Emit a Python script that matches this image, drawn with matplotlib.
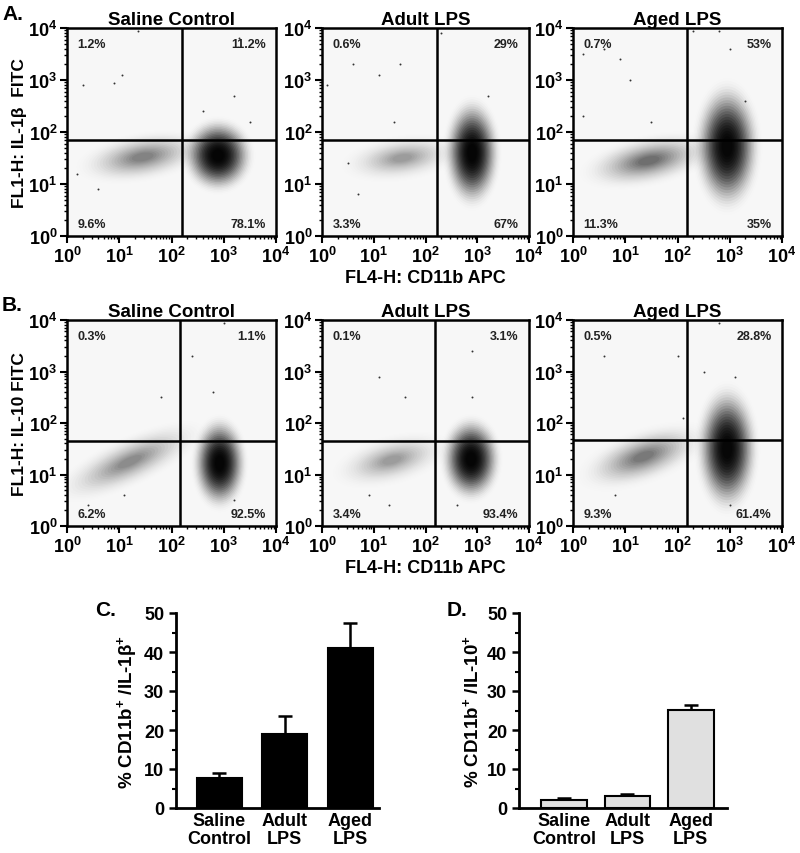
import numpy as np
import matplotlib
matplotlib.use('Agg')
from matplotlib import pyplot as plt
from matplotlib.patches import Ellipse

plt.rcParams['font.family'] = ['Liberation Sans', 'DejaVu Sans']
plt.rcParams['font.weight'] = 'bold'
plt.rcParams['mathtext.fontset'] = 'custom'
plt.rcParams['mathtext.rm'] = 'Liberation Sans:bold'
plt.rcParams['mathtext.bf'] = 'Liberation Sans:bold'
plt.rcParams['mathtext.it'] = 'Liberation Sans:bold'
plt.rcParams['mathtext.default'] = 'bf'

# ---- flow cytometry panels (values in log10 units) ----
groups = ['Saline Control', 'Adult LPS', 'Aged LPS']

# quadrant gates (x, y) per panel
gates_a = [(2.20, 1.85), (2.22, 1.85), (2.18, 1.84)]
gates_b = [(2.16, 1.65), (2.19, 1.65), (2.18, 1.67)]

# quadrant percentages: upper-left, upper-right, lower-left, lower-right
pct_a = [['1.2%', '11.2%', '9.6%', '78.1%'],
         ['0.6%', '29%', '3.3%', '67%'],
         ['0.7%', '53%', '11.3%', '35%']]
pct_b = [['0.3%', '1.1%', '6.2%', '92.5%'],
         ['0.1%', '3.1%', '3.4%', '93.4%'],
         ['0.5%', '28.8%', '9.3%', '61.4%']]

# populations: (center x, center y, radius x, radius y, tilt deg, density)
clusters_a = [
    [(2.89, 1.55, 0.36, 0.38, 0, 1.9), (1.45, 1.52, 0.70, 0.26, 10, 0.35)],
    [(2.90, 1.60, 0.29, 0.56, 0, 1.9), (1.55, 1.50, 0.64, 0.24, 8, 0.25)],
    [(2.95, 1.72, 0.34, 0.66, 0, 1.8), (1.45, 1.45, 0.70, 0.26, 12, 0.45)],
]
clusters_b = [
    [(2.92, 1.22, 0.28, 0.48, 0, 1.9), (1.20, 1.25, 0.85, 0.26, 25, 0.32)],
    [(2.88, 1.30, 0.31, 0.44, 0, 1.9), (1.35, 1.28, 0.64, 0.26, 15, 0.25)],
    [(2.95, 1.50, 0.32, 0.66, 0, 1.8), (1.35, 1.35, 0.70, 0.28, 20, 0.40)],
]

# stray events
strays_a = [
    [(0.3, 2.9), (0.9, 2.95), (1.05, 3.1), (1.35, 3.95), (3.3, 3.8), (3.2, 2.7), (2.6, 2.4), (3.5, 2.2), (0.2, 1.2), (0.6, 0.9)],
    [(0.6, 3.3), (1.1, 3.1), (1.5, 3.3), (0.1, 2.9), (2.3, 3.9), (3.2, 2.7), (1.4, 2.2), (0.5, 1.4), (0.7, 0.8)],
    [(0.2, 3.5), (0.9, 3.4), (1.1, 3.0), (0.6, 3.6), (2.3, 3.95), (2.8, 3.95), (3.0, 3.6), (3.3, 2.6), (1.5, 2.2), (0.2, 2.3)],
]
strays_b = [
    [(3.0, 3.95), (2.4, 3.3), (2.8, 2.6), (1.8, 2.5), (0.4, 0.4), (1.1, 0.6), (3.2, 0.5)],
    [(1.1, 2.9), (1.6, 2.5), (2.9, 3.4), (2.9, 2.5), (0.9, 0.6), (1.3, 0.4), (2.6, 0.4)],
    [(2.8, 3.95), (0.6, 3.3), (2.0, 3.3), (2.5, 3.0), (3.1, 2.9), (2.1, 2.1), (0.8, 0.6), (3.0, 0.4)],
]

# ---- bar charts ----
bar_labels = ['Saline\nControl', 'Adult\nLPS', 'Aged\nLPS']
il1b_mean = [7.8, 18.9, 41.1]
il1b_sem = [1.2, 4.6, 6.4]
il10_mean = [2.1, 3.0, 25.1]
il10_sem = [0.5, 0.5, 1.3]

W, H = 800, 854
fig = plt.figure(figsize=(W / 100, H / 100), dpi=100)


def px_axes(x0, y0, x1, y1):
    return fig.add_axes([x0 / W, 1 - y1 / H, (x1 - x0) / W, (y1 - y0) / H])


# density shading: wide faint rings outside, denser rings toward the centre
layer_scales = np.linspace(2.0, 0.3, 22)
layer_alpha = 0.22 * (1 - layer_scales / 2.1) ** 1.5
minor = [np.log10(m) + d for d in range(4) for m in range(2, 10)]


def flow_panel(ax, title, gate, pct, clusters, strays):
    ax.set_facecolor('#f7f7f7')
    for cx, cy, rx, ry, ang, dens in clusters:
        for s, a in zip(layer_scales, layer_alpha):
            ax.add_patch(Ellipse((cx, cy), 2 * rx * s, 2 * ry * s, angle=ang,
                                 facecolor='black', edgecolor='none',
                                 alpha=min(1.0, a * dens)))
    sx, sy = zip(*strays)
    ax.scatter(sx, sy, s=2, c='#333333', linewidths=0)
    ax.axvline(gate[0], color='black', lw=1.8)
    ax.axhline(gate[1], color='black', lw=1.8)
    ax.set_xlim(0, 4)
    ax.set_ylim(0, 4)
    ticks = [0, 1, 2, 3, 4]
    tl = [r'$10^{%d}$' % t for t in ticks]
    ax.set_xticks(ticks)
    ax.set_xticklabels(tl)
    ax.set_yticks(ticks)
    ax.set_yticklabels(tl)
    ax.set_xticks(minor, minor=True)
    ax.set_yticks(minor, minor=True)
    ax.tick_params(which='major', length=5, width=1.5, labelsize=13, pad=2)
    ax.tick_params(which='minor', length=2.5, width=1)
    for sp in ax.spines.values():
        sp.set_linewidth(1.8)
    kw = dict(transform=ax.transAxes, fontsize=9, fontweight='bold', color='#222222')
    ax.text(0.05, 0.95, pct[0], ha='left', va='top', **kw)
    ax.text(0.95, 0.95, pct[1], ha='right', va='top', **kw)
    ax.text(0.05, 0.03, pct[2], ha='left', va='bottom', **kw)
    ax.text(0.95, 0.03, pct[3], ha='right', va='bottom', **kw)
    ax.set_title(title, fontsize=13.5, fontweight='bold', pad=3)


lefts = [(67, 276), (322, 529), (573, 782)]
for i in range(3):
    ax = px_axes(lefts[i][0], 29, lefts[i][1], 237)
    flow_panel(ax, groups[i], gates_a[i], pct_a[i], clusters_a[i], strays_a[i])
    if i == 0:
        ax.set_ylabel('FL1-H: IL-1β  FITC', fontsize=12.5, fontweight='bold', labelpad=1)
    if i == 1:
        ax.set_xlabel('FL4-H: CD11b APC', fontsize=13, fontweight='bold', labelpad=2)
for i in range(3):
    ax = px_axes(lefts[i][0], 321, lefts[i][1], 527)
    flow_panel(ax, groups[i], gates_b[i], pct_b[i], clusters_b[i], strays_b[i])
    if i == 0:
        ax.set_ylabel('FL1-H: IL-10 FITC', fontsize=12.5, fontweight='bold', labelpad=1)
    if i == 1:
        ax.set_xlabel('FL4-H: CD11b APC', fontsize=13, fontweight='bold', labelpad=2)


def bar_panel(ax, means, sems, color, ylabel, xlim, width):
    x = np.arange(len(means))
    ax.bar(x, means, width=width, color=color, edgecolor='black', linewidth=1.5, zorder=2)
    ax.errorbar(x, means, yerr=[[0] * len(sems), sems], fmt='none', ecolor='black',
                elinewidth=1.8, capsize=5, capthick=1.8, zorder=1)
    ax.set_xlim(*xlim)
    ax.set_ylim(0, 50)
    ax.set_yticks(range(0, 51, 10))
    ax.set_yticks(range(5, 50, 10), minor=True)
    ax.set_xticks(x)
    ax.set_xticklabels(bar_labels, fontsize=13, fontweight='bold', linespacing=1.05)
    ax.tick_params(axis='x', length=0, pad=3)
    ax.tick_params(axis='y', which='major', length=5, width=1.8, labelsize=13)
    ax.tick_params(axis='y', which='minor', length=3, width=1.5)
    for lab in ax.get_yticklabels():
        lab.set_fontweight('bold')
    ax.spines['top'].set_visible(False)
    ax.spines['right'].set_visible(False)
    ax.spines['left'].set_linewidth(2)
    ax.spines['bottom'].set_linewidth(2)
    ax.set_ylabel(ylabel, fontsize=13.5, fontweight='bold', labelpad=4)


axc = px_axes(176, 614, 379, 809)
bar_panel(axc, il1b_mean, il1b_sem, 'black', r'% CD11b$^{+}$ /IL-1β$^{+}$', (-0.66, 2.44), 0.69)
axd = px_axes(519, 614, 727, 809)
bar_panel(axd, il10_mean, il10_sem, '#e0e0e0', r'% CD11b$^{+}$ /IL-10$^{+}$', (-0.71, 2.57), 0.72)

fig.text(2 / W, 1 - 14 / H, 'A.', fontsize=15, fontweight='bold', va='center')
fig.text(2 / W, 1 - 306 / H, 'B.', fontsize=15, fontweight='bold', va='center')
fig.text(95 / W, 1 - 610 / H, 'C.', fontsize=15, fontweight='bold', va='center')
fig.text(447 / W, 1 - 610 / H, 'D.', fontsize=15, fontweight='bold', va='center')

fig.savefig('out.png', dpi=100)
